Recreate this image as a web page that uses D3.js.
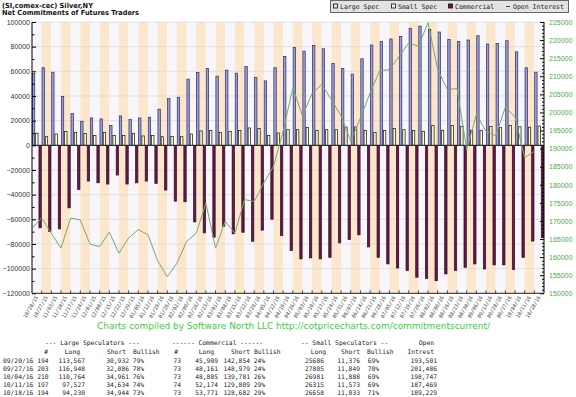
<!DOCTYPE html>
<html>
<head>
<meta charset="utf-8">
<script src="https://cdn.jsdelivr.net/npm/d3@7"></script>
<style>
  html, body { margin: 0; padding: 0; background: #fff; }
  svg { display: block; }
</style>
</head>
<body>
<svg id="chart" width="576" height="397"></svg>
<script>
// weekly report dates
const dates = [
  "10/20/15", "10/27/15", "11/03/15", "11/10/15", "11/17/15", "11/24/15", "12/01/15", "12/08/15",
  "12/15/15", "12/22/15", "12/29/15", "01/05/16", "01/12/16", "01/19/16", "01/26/16", "02/02/16",
  "02/09/16", "02/16/16", "02/23/16", "03/01/16", "03/08/16", "03/15/16", "03/22/16", "03/29/16",
  "04/05/16", "04/12/16", "04/19/16", "04/26/16", "05/03/16", "05/10/16", "05/17/16", "05/24/16",
  "05/31/16", "06/07/16", "06/14/16", "06/21/16", "06/28/16", "07/05/16", "07/12/16", "07/19/16",
  "07/26/16", "08/02/16", "08/09/16", "08/16/16", "08/23/16", "08/30/16", "09/06/16", "09/13/16",
  "09/20/16", "09/27/16", "10/04/16", "10/11/16", "10/18/16"
];

// net positions
const largeSpec = [
  58300, 62900, 59300, 39600, 25700, 19500, 22200, 21400, 16000, 23800, 21100, 22200, 22800,
  29300, 37900, 39000, 53700, 59100, 62300, 56100, 61000, 58500, 64000, 55000, 52300, 62900,
  72100, 79400, 76400, 81000, 78300, 66400, 62300, 57700, 70200, 81300, 84300, 86200, 88300,
  94900, 96700, 94000, 91900, 85900, 84300, 85400, 88900, 82100, 82635, 84862, 75803, 62893, 59286
];
const smallSpec = [
  9800, 7000, 9200, 11100, 10600, 9500, 7900, 10300, 7900, 7900, 9800, 7600, 7900,
  7000, 7300, 7000, 9200, 11700, 11900, 10300, 11100, 11900, 14100, 13600, 7900, 10000,
  12700, 12700, 14600, 11900, 12700, 12700, 14900, 14900, 11900, 10300, 11900, 13600, 12700,
  11900, 11400, 16000, 12200, 16000, 15400, 12200, 11900, 15400, 14310, 15956, 15093, 14742, 15625
];
const commercial = [
  -66900, -69900, -67800, -50700, -35800, -29000, -30400, -31400, -24100, -31400, -30400, -29000, -30900,
  -36300, -45300, -45800, -62100, -71000, -74500, -65600, -71800, -70500, -77800, -68800, -59900, -73200,
  -85400, -92100, -91300, -92100, -90800, -79100, -76400, -72600, -82400, -90800, -96200, -99500, -101600,
  -107000, -107900, -109800, -104300, -101600, -98900, -96200, -100300, -97000, -96945, -100818, -90896, -77635, -74911
];
const openInterest = [
  168000, 170800, 166600, 162500, 170800, 170300, 163600, 162900, 166900, 161100, 165300, 167600, 166200,
  159000, 154600, 158300, 164300, 166600, 174900, 162500, 169900, 166600, 175900, 175400, 180500, 185100,
  194800, 206800, 199000, 205300, 207700, 203500, 199000, 192000, 198500, 205400, 211600, 211800, 215500,
  219200, 218300, 224800, 211800, 206300, 206600, 189700, 199400, 194800, 193501, 201486, 198747, 187469, 189229
];

const leftTicks = [100000, 80000, 60000, 40000, 20000, 0, -20000, -40000, -60000, -80000, -100000, -120000];
const rightTicks = [225000, 220000, 215000, 210000, 205000, 200000, 195000, 190000, 185000,
  180000, 175000, 170000, 165000, 160000, 155000, 150000];

// summary table
const tableDates = ["09/20/16", "09/27/16", "10/04/16", "10/11/16", "10/18/16"];
const lsTraders = [194, 203, 210, 197, 194];
const lsLong = [113567, 116948, 110764, 97527, 94230];
const lsShort = [30932, 32086, 34961, 34634, 34944];
const lsBullish = [79, 78, 76, 74, 73];
const cmTraders = [73, 73, 73, 74, 73];
const cmLong = [45909, 48161, 48885, 52174, 53771];
const cmShort = [142854, 148979, 139781, 129809, 128682];
const cmBullish = [24, 24, 26, 29, 29];
const ssLong = [25686, 27805, 26981, 26315, 26658];
const ssShort = [11376, 11849, 11888, 11573, 11033];
const ssBullish = [69, 70, 69, 69, 71];
const oiTable = [193501, 201486, 198747, 187469, 189229];

const svg = d3.select("#chart");
const plotLeft = 32, plotRight = 544, plotTop = 22, plotBottom = 293.3;

const x = d3.scaleBand().domain(dates).range([plotLeft, plotRight]).padding(0);
const y = d3.scaleLinear().domain([-120000, 100000]).range([plotBottom, plotTop]);
const yR = d3.scaleLinear().domain([150000, 225000]).range([plotBottom, plotTop]);
const inner = d3.scaleBand().domain(["ls", "ss", "cm"]).range([0, x.bandwidth()]).paddingInner(0.06);

const monoFont = "'DejaVu Sans Mono', monospace";
const sansFont = "'Liberation Sans', Arial, sans-serif";

// title
svg.append("text").attr("x", 2).attr("y", 8)
  .attr("textLength", 91).attr("lengthAdjust", "spacingAndGlyphs")
  .style("font", "bold 7px 'DejaVu Sans', sans-serif").style("fill", "#111")
  .text("(SI,comex-cec) Silver,NY");
svg.append("text").attr("x", 2).attr("y", 15)
  .attr("textLength", 137).attr("lengthAdjust", "spacingAndGlyphs")
  .style("font", "bold 7px 'DejaVu Sans', sans-serif").style("fill", "#111")
  .text("Net Commitments of Futures Traders");

// alternating background stripes
svg.append("g").selectAll("rect").data(dates).join("rect")
  .attr("x", d => x(d)).attr("y", plotTop)
  .attr("width", x.bandwidth()).attr("height", plotBottom - plotTop)
  .attr("fill", (d, i) => (i % 2 ? "#fce7cc" : "#f6f6fb"));

// horizontal grid
svg.append("g").selectAll("line").data(leftTicks.filter(v => v !== 0 && v !== -120000)).join("line")
  .attr("x1", plotLeft).attr("x2", plotRight)
  .attr("y1", d => y(d)).attr("y2", d => y(d))
  .attr("stroke", "#d9d9d9").attr("stroke-width", 0.7);

// bars
const groups = svg.append("g").selectAll("g").data(dates).join("g")
  .attr("transform", d => `translate(${x(d)},0)`);

groups.append("rect")
  .attr("x", inner("ls") + 0.35).attr("width", inner.bandwidth() - 0.7)
  .attr("y", (d, i) => y(Math.max(0, largeSpec[i])))
  .attr("height", (d, i) => Math.abs(y(largeSpec[i]) - y(0)))
  .attr("fill", "#9d9dd9").attr("stroke", "#2b2b5c").attr("stroke-width", 0.7);

groups.append("rect")
  .attr("x", inner("ss") + 0.35).attr("width", inner.bandwidth() - 0.7)
  .attr("y", (d, i) => y(Math.max(0, smallSpec[i])))
  .attr("height", (d, i) => Math.abs(y(smallSpec[i]) - y(0)))
  .attr("fill", "#ffffcc").attr("stroke", "#111").attr("stroke-width", 0.7);

groups.append("rect")
  .attr("x", inner("cm") + 0.35).attr("width", inner.bandwidth() - 0.7)
  .attr("y", (d, i) => y(Math.max(0, commercial[i])))
  .attr("height", (d, i) => Math.abs(y(commercial[i]) - y(0)))
  .attr("fill", "#5d1a42").attr("stroke", "#3b0c28").attr("stroke-width", 0.7);

// zero line
svg.append("line").attr("x1", plotLeft).attr("x2", plotRight)
  .attr("y1", y(0)).attr("y2", y(0))
  .attr("stroke", "#222").attr("stroke-width", 1);

// open interest line
const oiLine = d3.line().x((d, i) => x(dates[i])).y(d => yR(d));
svg.append("path").datum(openInterest)
  .attr("d", oiLine).attr("fill", "none")
  .attr("stroke", "#7aa86c").attr("stroke-width", 1);

// left axis
const leftAxis = svg.append("g").attr("transform", `translate(${plotLeft},0)`)
  .call(d3.axisLeft(y).tickValues(leftTicks).tickSize(-4).tickPadding(2).tickFormat(d3.format("d")));
svg.append("g").attr("transform", `translate(${plotLeft},0)`)
  .call(d3.axisLeft(y).tickValues(leftTicks.slice(0, -1).map(v => v - 10000)).tickSize(-2.5).tickFormat(""))
  .call(g => g.select(".domain").remove());
leftAxis.select(".domain").attr("d", `M0,${plotTop}V${plotBottom}`);
leftAxis.selectAll("text").style("font", `7px ${sansFont}`).style("fill", "#333");

// right axis
const rightAxis = svg.append("g").attr("transform", `translate(${plotRight},0)`)
  .call(d3.axisRight(yR).tickValues(rightTicks).tickSize(-4).tickPadding(5).tickFormat(d3.format("d")));
const minorRight = rightTicks.slice(0, -1).flatMap(v => [1000, 2000, 3000, 4000].map(k => v - k));
svg.append("g").attr("transform", `translate(${plotRight},0)`)
  .call(d3.axisRight(yR).tickValues(minorRight).tickSize(-2).tickFormat(""))
  .call(g => g.select(".domain").remove());
rightAxis.select(".domain").attr("d", `M0,${plotTop}V${plotBottom}`);
rightAxis.selectAll("text").style("font", `7px ${sansFont}`).style("fill", "#4caa4c");

// bottom axis: ticks on week boundaries, rotated date labels
svg.append("line").attr("x1", plotLeft).attr("x2", plotRight)
  .attr("y1", plotBottom).attr("y2", plotBottom).attr("stroke", "#222");
svg.append("g").selectAll("line").data(dates.slice(1)).join("line")
  .attr("x1", d => x(d)).attr("x2", d => x(d))
  .attr("y1", plotBottom).attr("y2", plotBottom - 3)
  .attr("stroke", "#222").attr("stroke-width", 0.8);
const bottomAxis = svg.append("g").attr("transform", `translate(0,${plotBottom})`)
  .call(d3.axisBottom(x).tickSize(0));
bottomAxis.select(".domain").remove();
bottomAxis.selectAll("text")
  .attr("x", 0).attr("y", 0).attr("dy", 0)
  .attr("transform", "translate(1.5,4) rotate(-60)")
  .style("text-anchor", "end")
  .style("font", `5.1px ${monoFont}`).style("fill", "#444");

// legend
const legend = svg.append("g");
legend.append("rect").attr("x", 330.5).attr("y", 0.5).attr("width", 238).attr("height", 12)
  .attr("fill", "#e3e3e3").attr("stroke", "#666");
const legendItems = [
  { label: "Large Spec", x: 333, fill: "#e8e8f4", stroke: "#222" },
  { label: "Small Spec", x: 391, fill: "#f4f4e4", stroke: "#222" },
  { label: "Commercial", x: 448, fill: "#5d1a42", stroke: "#3b0c28" }
];
legendItems.forEach(it => {
  legend.append("rect").attr("x", it.x + 0.5).attr("y", 4).attr("width", 4).attr("height", 4)
    .attr("fill", it.fill).attr("stroke", it.stroke).attr("stroke-width", 0.9);
  legend.append("text").attr("x", it.x + 7).attr("y", 9)
    .style("font", `6.5px ${monoFont}`).style("fill", "#222").text(it.label);
});
legend.append("line").attr("x1", 506).attr("x2", 510).attr("y1", 6.5).attr("y2", 6.5)
  .attr("stroke", "#444").attr("stroke-width", 1);
legend.append("text").attr("x", 513).attr("y", 9)
  .style("font", `6.5px ${monoFont}`).style("fill", "#222").text("Open Interest");

// footer credit
svg.append("text").attr("x", 97).attr("y", 329)
  .attr("textLength", 393).attr("lengthAdjust", "spacingAndGlyphs")
  .style("font", "8.5px 'DejaVu Sans', sans-serif").style("fill", "#3fcc3f")
  .text("Charts compiled by Software North LLC  http://cotpricecharts.com/commitmentscurrent/");

// summary table
const tbl = svg.append("g").style("font", `6.3px ${monoFont}`).style("fill", "#222");
const headTexts = [
  ["--- Large Speculators ---", 45, 345, "start"],
  ["------ Commercial ------", 172, 345, "start"],
  ["-- Small Speculators --", 301, 345, "start"],
  ["Open", 434, 345, "end"],
  ["#", 48, 354, "end"], ["Long", 80, 354, "end"], ["Short", 126, 354, "end"], ["Bullish", 133, 354, "start"],
  ["#", 178, 354, "end"], ["Long", 214, 354, "end"], ["Short", 250, 354, "end"], ["Bullish", 254, 354, "start"],
  ["Long", 326, 354, "end"], ["Short", 360, 354, "end"], ["Bullish", 367, 354, "start"],
  ["Intrest", 434, 354, "end"]
];
headTexts.forEach(([t, hx, hy, anchor]) => {
  tbl.append("text").attr("x", hx).attr("y", hy).attr("text-anchor", anchor)
    .attr("xml:space", "preserve").text(t);
});
const comma = d3.format(",");
const cols = [
  [tableDates, 3, "start", d => d],
  [lsTraders, 48.5, "end", d => d],
  [lsLong, 85, "end", comma],
  [lsShort, 129, "end", comma],
  [lsBullish, 144, "end", d => d + "%"],
  [cmTraders, 181, "end", d => d],
  [cmLong, 218, "end", comma],
  [cmShort, 250, "end", comma],
  [cmBullish, 265, "end", d => d + "%"],
  [ssLong, 324, "end", d => d],
  [ssShort, 360, "end", comma],
  [ssBullish, 379, "end", d => d + "%"],
  [oiTable, 437, "end", comma]
];
cols.forEach(([arr, cx, anchor, fmt]) => {
  tbl.append("g").selectAll("text").data(arr).join("text")
    .attr("x", cx).attr("y", (d, i) => 363 + i * 8.1)
    .attr("text-anchor", anchor).text(fmt);
});
</script>
</body>
</html>
